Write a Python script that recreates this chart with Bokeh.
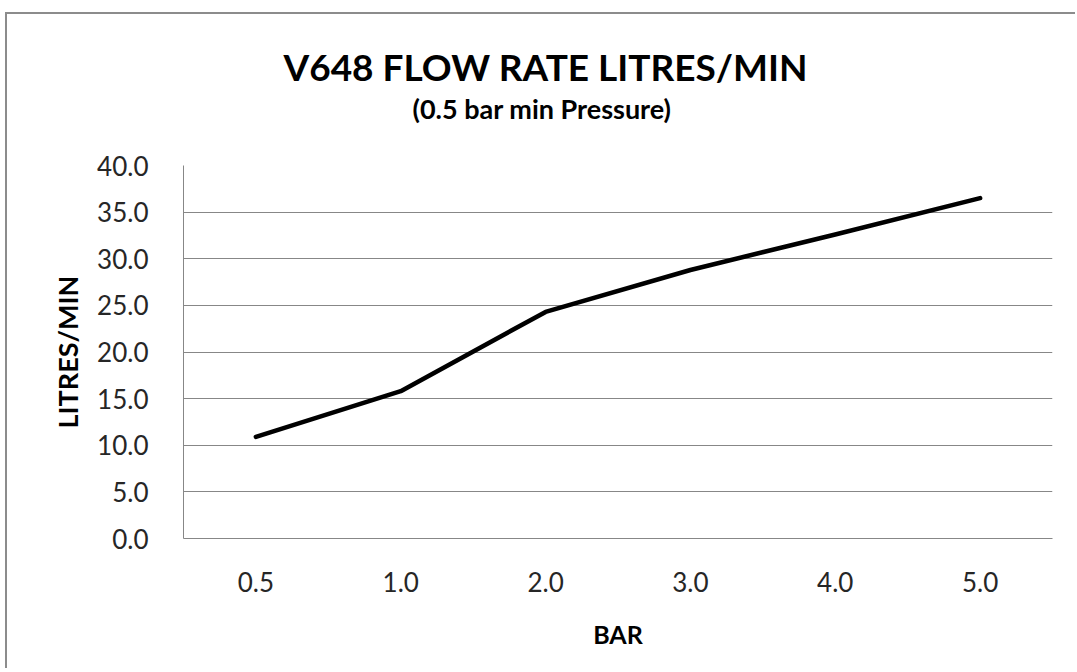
from bokeh.plotting import figure
from bokeh.models import Range1d, FactorRange, Title, ColumnDataSource, FixedTicker, NumeralTickFormatter
from bokeh.embed import file_html
from bokeh.resources import INLINE

# ---- data ----
pressure_bar = ["0.5", "1.0", "2.0", "3.0", "4.0", "5.0"]
flow_lpm = [10.9, 15.8, 24.3, 28.8, 32.6, 36.5]
y_ticks = [0, 5, 10, 15, 20, 25, 30, 35, 40]
title_text = "V648 FLOW RATE LITRES/MIN"
subtitle_text = "(0.5 bar min Pressure)"
x_label = "BAR"
y_label = "LITRES/MIN"

FONT = "Lato"
GRID = "#878787"
TXT = "#262626"

src = ColumnDataSource(dict(bar=pressure_bar, flow=flow_lpm))

p = figure(width=1070, height=656,
           x_range=FactorRange(*pressure_bar), y_range=Range1d(0, 40),
           output_backend="svg", toolbar_location=None,
           min_border_left=176, min_border_right=25,
           min_border_top=0, min_border_bottom=132)
p.styles = {"border-left": "2px solid #8c8c8c", "border-top": "2px solid #8c8c8c",
            "margin-left": "5px", "margin-top": "12px"}

p.line(x="bar", y="flow", source=src, line_color="black", line_width=4.6,
       line_cap="round", line_join="round")

p.outline_line_color = None
p.background_fill_color = "white"
p.border_fill_color = "white"
p.xgrid.visible = False
p.ygrid.grid_line_color = GRID
p.ygrid.grid_line_width = 1

p.yaxis.ticker = FixedTicker(ticks=y_ticks)
p.yaxis.formatter = NumeralTickFormatter(format="0.0")
for ax in (p.xaxis[0], p.yaxis[0]):
    ax.axis_line_color = GRID
    ax.axis_line_width = 1
    ax.major_tick_line_color = None
    ax.minor_tick_line_color = None
    ax.major_label_text_font = FONT
    ax.major_label_text_font_size = "26px"
    ax.major_label_text_color = TXT
    ax.axis_label_text_font = FONT
    ax.axis_label_text_font_style = "bold"
    ax.axis_label_text_color = "black"

p.yaxis.axis_label = y_label
p.yaxis.axis_label_text_font_size = "27px"
p.yaxis.major_label_standoff = 29
p.yaxis.axis_label_standoff = 10
p.xaxis.axis_label = x_label
p.xaxis.axis_label_text_font_size = "25px"
p.xaxis.major_label_standoff = 27
p.xaxis.axis_label_standoff = 24

# stacked title panels (first added sits nearest the plot frame)
p.add_layout(Title(text=" ", text_font_size="10px", standoff=26), "above")
p.add_layout(Title(text=subtitle_text, align="left", offset=229, vertical_align="top",
                   text_font=FONT, text_font_style="bold", text_font_size="27px",
                   text_color="black", standoff=0), "above")
p.add_layout(Title(text=title_text, align="left", offset=100, vertical_align="top",
                   text_font=FONT, text_font_style="bold", text_font_size="37px",
                   text_color="black", standoff=2), "above")
p.add_layout(Title(text=" ", text_font_size="10px", standoff=15), "above")

open("out.html", "w").write(file_html(p, INLINE))
